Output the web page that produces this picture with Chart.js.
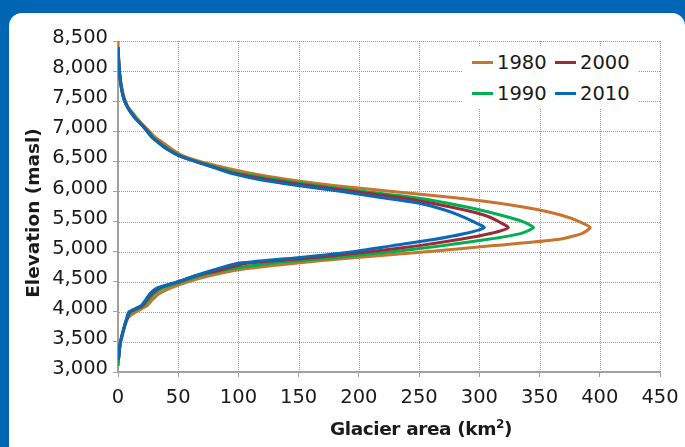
<!DOCTYPE html>
<html>
<head>
<meta charset="utf-8">
<script src="https://cdn.jsdelivr.net/npm/chart.js@4.4.1/dist/chart.umd.min.js"></script>
<style>
  html, body { margin: 0; padding: 0; }
  body { width: 685px; height: 447px; background: #0066b3; position: relative; overflow: hidden; font-family: "DejaVu Sans", sans-serif; color: #1a1a1a; }
  #panel { position: absolute; left: 9px; top: 13px; width: 676px; height: 460px; background: #fff; border-radius: 13px 13px 0 0; }
  #grid { position: absolute; left: 0; top: 0; width: 685px; height: 447px; }
  #grid .h { position: absolute; height: 0; border-top: 1px dotted #999; }
  #grid .v { position: absolute; width: 0; border-left: 1px dotted #999; }
  #grid .axis { position: absolute; background: #a0a0a0; }
  #chart { position: absolute; left: 0; top: 0; }
  #legend { position: absolute; left: 462px; top: 46px; width: 176px; height: 62px; background: #fff; }
  .item { position: absolute; height: 22px; display: flex; align-items: center; font-size: 19.5px; }
  .item i { display: inline-block; width: 21px; height: 3px; margin-right: 4px; }
  .title { position: absolute; font-weight: bold; font-size: 18.5px; text-align: center; white-space: nowrap; }
  #ytitle { left: -67px; top: 202px; width: 200px; height: 22px; line-height: 22px; transform: rotate(-90deg); }
  #xtitle { left: 301px; top: 418px; width: 240px; height: 22px; line-height: 22px; letter-spacing: -0.4px; }
  #xtitle sup { font-size: 12px; line-height: 0; }
</style>
</head>
<body>
<div id="panel"></div>
<div id="grid"></div>
<canvas id="chart" width="685" height="447"></canvas>
<div id="legend"></div>
<div class="title" id="ytitle">Elevation (masl)</div>
<div class="title" id="xtitle">Glacier area (km<sup>2</sup>)</div>
<script>
// elevation bands (m a.s.l.)
var elevations = [3100, 3200, 3300, 3400, 3500, 3600, 3700, 3800, 3900, 4000,
	4100, 4200, 4300, 4400, 4500, 4600, 4700, 4800, 4900, 5000,
	5100, 5200, 5300, 5400, 5500, 5600, 5700, 5800, 5900, 6000,
	6100, 6200, 6300, 6400, 6500, 6600, 6700, 6800, 6900, 7000,
	7100, 7200, 7300, 7400, 7500, 7600, 7700, 7800, 7900, 8000,
	8100, 8200, 8300, 8400, 8500];

// glacier area per band (km2)
var area1980 = [0, 0.4, 1, 1.5, 2.3, 3.5, 4.8, 6.3, 8.5, 15,
	24, 28.5, 34, 44, 58, 76, 100, 143, 196, 256,
	312, 365, 385, 392, 383, 369, 348, 318, 278, 228,
	179, 141, 111, 88, 68, 53, 45, 38, 31, 26,
	21, 16.5, 12.5, 8.5, 6.2, 4.6, 3.4, 2.5, 1.8, 1.3,
	0.9, 0.6, 0.3, 0.1, 0];
var area1990 = [0, 0.4, 0.9, 1.4, 2.1, 3.3, 4.6, 6, 8, 11,
	21, 25.5, 30, 38, 52, 68, 90, 124, 178, 228,
	270, 306, 334, 345, 336, 319, 299, 275, 246, 204,
	165, 131, 101, 82, 65, 51, 42, 35, 29, 25,
	20.5, 15.5, 11.5, 8, 5.6, 4.1, 3.1, 2.2, 1.6, 1.1,
	0.8, 0.5, 0.3, 0, null];
var area2000 = [null, 0.3, 0.9, 1.3, 2, 3.2, 4.5, 5.9, 7.6, 10,
	20, 24, 28, 35, 50, 65, 86, 105, 162, 209,
	250, 283, 309, 324, 316, 305, 286, 262, 234, 196,
	158, 124, 97, 80, 64, 50, 41, 34.5, 28.5, 24.5,
	20, 15, 11, 8, 5.5, 4, 3, 2.2, 1.6, 1.1,
	0.8, 0.5, 0.3, 0, null];
var area2010 = [null, 0.3, 0.9, 1.3, 2, 3.2, 4.5, 5.8, 7.3, 9,
	19, 23, 26.5, 33, 50, 64, 80, 98, 149, 195,
	228, 262, 288, 304, 295, 284, 270, 251, 218, 186,
	149, 117, 94, 79, 64, 50, 41, 34, 28, 24,
	20, 15, 11, 8, 5.5, 4, 3, 2.2, 1.6, 1.1,
	0.8, 0.5, 0.3, 0, null];

var xTicks = [0, 50, 100, 150, 200, 250, 300, 350, 400, 450];
var yTicks = [3000, 3500, 4000, 4500, 5000, 5500, 6000, 6500, 7000, 7500, 8000, 8500];

var series = [
	{ label: '1980', data: area1980, color: '#c8742f', order: 4 },
	{ label: '2000', data: area2000, color: '#9c2b37', order: 2 },
	{ label: '1990', data: area1990, color: '#00b050', order: 3 },
	{ label: '2010', data: area2010, color: '#0a68b6', order: 1 }
];

function toPoints(areas) {
	var pts = [];
	elevations.forEach(function (e, i) {
		if (areas[i] !== null) pts.push({ x: areas[i], y: e });
	});
	return pts;
}

var tickColor = '#a0a0a0';
var font = { family: '"DejaVu Sans", sans-serif', size: 19.5 };

var chart = new Chart(document.getElementById('chart'), {
	type: 'line',
	data: {
		datasets: series.map(function (s) {
			return {
				label: s.label,
				data: toPoints(s.data),
				borderColor: s.color,
				borderWidth: 3,
				pointRadius: 0,
				tension: 0.2,
				fill: false,
				order: s.order
			};
		})
	},
	options: {
		responsive: false,
		animation: false,
		layout: { padding: { left: 0, top: 41, right: 25, bottom: 0 } },
		plugins: { legend: { display: false }, tooltip: { enabled: false } },
		scales: {
			x: {
				type: 'linear',
				min: xTicks[0],
				max: xTicks[xTicks.length - 1],
				afterBuildTicks: function (s) { s.ticks = xTicks.map(function (v) { return { value: v }; }); },
				afterFit: function (s) { s.height = 75; s.paddingRight = 0; },
				ticks: { color: '#1a1a1a', font: font, padding: 9, maxRotation: 0 },
				grid: { color: tickColor, tickLength: 5, drawOnChartArea: false },
				border: { display: false }
			},
			y: {
				type: 'linear',
				min: yTicks[0],
				max: yTicks[yTicks.length - 1],
				afterBuildTicks: function (s) { s.ticks = yTicks.map(function (v) { return { value: v }; }); },
				afterFit: function (s) { s.width = 118; },
				ticks: {
					color: '#1a1a1a', font: font, padding: 5, labelOffset: -3,
					callback: function (v) { return v.toLocaleString('en-US'); }
				},
				grid: { color: tickColor, tickLength: 5, drawOnChartArea: false },
				border: { display: false }
			}
		}
	}
});

// dotted gridlines + solid axes behind the canvas, placed from the chart's scales
var grid = document.getElementById('grid');
var area = chart.chartArea;
function addLine(cls, css) {
	var d = document.createElement('div');
	d.className = cls;
	for (var k in css) d.style[k] = css[k] + 'px';
	grid.appendChild(d);
}
yTicks.slice(1).forEach(function (v) {
	var y = Math.round(chart.scales.y.getPixelForValue(v));
	addLine('h', { left: area.left, top: y, width: area.right - area.left });
});
xTicks.slice(1).forEach(function (v) {
	var x = Math.round(chart.scales.x.getPixelForValue(v));
	addLine('v', { left: x, top: area.top, height: area.bottom - area.top });
});
addLine('axis', { left: area.left - 1, top: area.top, width: 2, height: area.bottom - area.top + 1 });
addLine('axis', { left: area.left - 1, top: area.bottom - 1, width: area.right - area.left + 1, height: 2 });

// legend, two columns
var legend = document.getElementById('legend');
series.forEach(function (s, i) {
	var item = document.createElement('div');
	item.className = 'item';
	item.style.left = (i % 2 === 0 ? 10 : 93) + 'px';
	item.style.top = (i < 2 ? 5.5 : 36) + 'px';
	item.innerHTML = '<i style="background:' + s.color + '"></i>' + s.label;
	legend.appendChild(item);
});
</script>
</body>
</html>
